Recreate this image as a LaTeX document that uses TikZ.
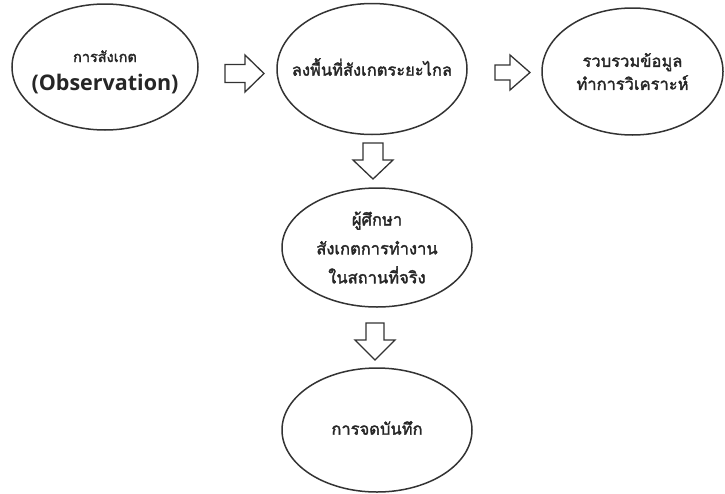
\documentclass[tikz,border=0pt]{standalone}
\usepackage{fontspec}
\setmainfont{Open Sans}
\newfontfamily\thaifont[Script=Thai, AutoFakeBold=2]{Loma}
\usetikzlibrary{shapes.geometric}
\tikzset{
  bubble/.style={ellipse, draw=black!80, line width=1.5pt, inner sep=0pt},
  blockarrow/.style={draw=black!80, line width=1.3pt, line join=miter, fill=white},
  thaitext/.style={font=\thaifont\bfseries\fontsize{16.5}{29}\selectfont, text=black!85, align=center, inner sep=0pt},
}
\begin{document}
\begin{tikzpicture}[x=1pt,y=-1pt]
\useasboundingbox (0,0) rectangle (725,493);
\node[bubble, minimum width=186pt, minimum height=126pt] (e1) at (105,67) {};
\node[thaitext, font=\thaifont\bfseries\fontsize{14.5}{20}\selectfont, anchor=base] (t1a) at (105,62) {การสังเกต};
\node[font=\bfseries\fontsize{21.5}{23}\selectfont, text=black!85, inner sep=0pt, anchor=base] (t1b) at (105,90) {(Observation)};
\node[bubble, minimum width=190pt, minimum height=131pt] (e2) at (372,69) {};
\node[thaitext] (t2) at ([yshift=2pt]e2.center) {ลงพื้นที่สังเกตระยะไกล};
\node[bubble, minimum width=181pt, minimum height=127pt] (e3) at (632.5,71.5) {};
\node[thaitext, font=\thaifont\bfseries\fontsize{16.5}{23}\selectfont] (t3) at (e3) {รวบรวมข้อมูล\\ทำการวิเคราะห์};
\node[bubble, minimum width=190pt, minimum height=119pt] (e4) at (377,247.5) {};
\node[thaitext] (t4) at (e4) {ผู้ศึกษา\\สังเกตการทำงาน\\ในสถานที่จริง};
\node[bubble, minimum width=190pt, minimum height=124pt] (e5) at (377,430) {};
\node[thaitext] (t5) at ([yshift=2pt]e5.center) {การจดบันทึก};
% block arrows
\draw[blockarrow] (225,64.5) -- (245,64.5) -- (245,55) -- (264,73.5) -- (245,92) -- (245,82.5) -- (225,82.5) -- cycle;
\draw[blockarrow] (495,65) -- (510,65) -- (510,55) -- (530,72.5) -- (510,90) -- (510,80) -- (495,80) -- cycle;
\draw[blockarrow] (363,143) -- (383,143) -- (383,160) -- (393,160) -- (373,179) -- (353,160) -- (363,160) -- cycle;
\draw[blockarrow] (366,323) -- (384,323) -- (384,340) -- (395,340) -- (375,360) -- (355,340) -- (366,340) -- cycle;
\end{tikzpicture}
\end{document}
